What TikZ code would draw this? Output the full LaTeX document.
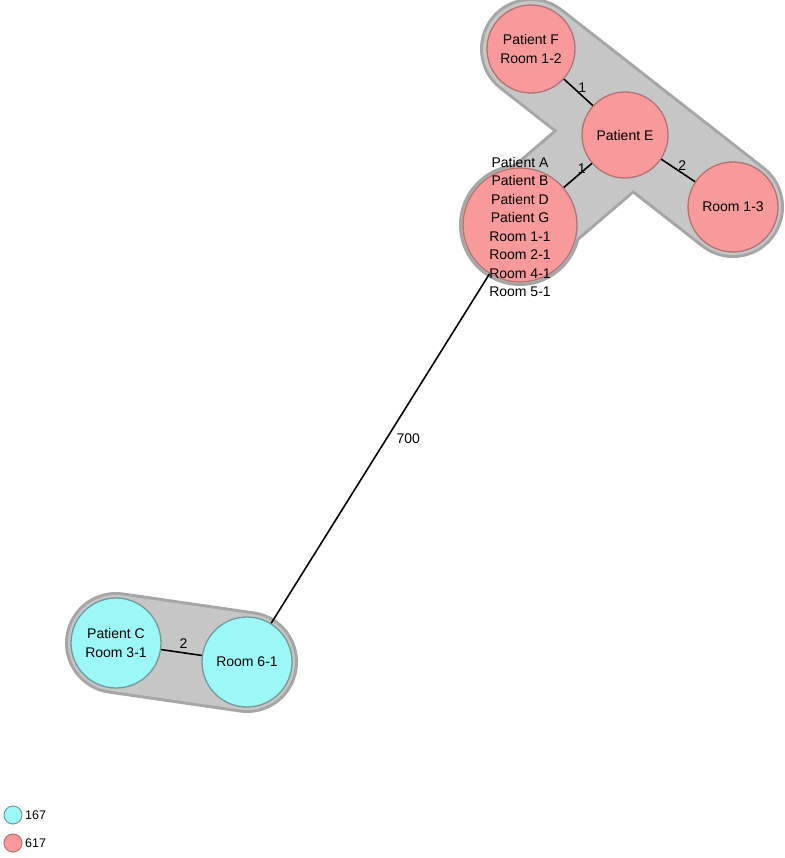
\documentclass[tikz,border=0pt]{standalone}
\usepackage{fontspec}
\setmainfont{Liberation Sans}
\begin{document}
\begin{tikzpicture}[x=1pt,y=-1pt,
  redn/.style={circle,draw=redborder,fill=redfill,line width=1.3pt,inner sep=0pt,minimum size=#1},
  cyann/.style={circle,draw=cyanborder,fill=cyanfill,line width=1.3pt,inner sep=0pt,minimum size=#1},
  ntext/.style={align=center,font=\fontsize{14}{18.5}\selectfont,text=black},
  edge/.style={line width=1.6pt,black},
  elab/.style={font=\fontsize{14}{16}\selectfont,inner sep=0pt},
  hullring/.style={draw=ringgray,line cap=round},
  hullfill/.style={draw=hullgray,line cap=round}]
\definecolor{redfill}{HTML}{F89A9B}
\definecolor{redborder}{HTML}{B27373}
\definecolor{cyanfill}{HTML}{9CF7F7}
\definecolor{cyanborder}{HTML}{739A9A}
\definecolor{ringgray}{HTML}{A6A6A6}
\definecolor{hullgray}{HTML}{C6C6C6}
\useasboundingbox[fill=white] (0,0) rectangle (784,858);
% centres
\coordinate (cF) at (531,49);
\coordinate (cE) at (625,135);
\coordinate (cR13) at (733,207);
\coordinate (cBig) at (520,225);
\coordinate (cC) at (116,643);
\coordinate (cR61) at (247,662);
% hulls: ring pass
\draw[hullring,line width=102pt] (cF) -- (cR13);
\draw[hullring,line width=100pt] (cBig) -- (cE);
\fill[ringgray] (cBig) circle (61);
\draw[hullring,line width=102pt] (cC) -- (cR61);
% hulls: fill pass
\draw[hullfill,line width=96pt] (cF) -- (cR13);
\draw[hullfill,line width=94pt] (cBig) -- (cE);
\fill[hullgray] (cBig) circle (58);
\draw[hullfill,line width=96pt] (cC) -- (cR61);
% nodes
\node[redn=88pt] (F) at (cF) {};
\node[redn=86pt] (E) at (cE) {};
\node[redn=90pt] (R13) at (cR13) {};
\node[redn=114pt] (Big) at (cBig) {};
\node[cyann=90pt] (C) at (cC) {};
\node[cyann=90pt] (R61) at (cR61) {};
% edges
\draw[edge] (F) -- (E) node[elab,pos=0.5,xshift=4pt,yshift=5pt] {1};
\draw[edge] (Big) -- (E) node[elab,pos=0.5,xshift=4pt,yshift=7pt] {1};
\draw[edge] (E) -- (R13) node[elab,pos=0.5,xshift=4pt,yshift=5pt] {2};
\draw[edge] (C) -- (R61) node[elab,pos=0.5,xshift=2pt,yshift=9pt] {2};
\draw[edge] (Big) -- (R61) node[elab,pos=0.5,xshift=28pt,yshift=10pt] {700};
% node texts
\node[ntext] (tF) at (cF) {Patient F\\Room 1-2};
\node[ntext] (tE) at (cE) {Patient E};
\node[ntext] (tR13) at (cR13) {Room 1-3};
\node[ntext] (tBig) at ([yshift=-2pt]cBig) {Patient A\\Patient B\\Patient D\\Patient G\\Room 1-1\\Room 2-1\\Room 4-1\\Room 5-1};
\node[ntext] (tC) at (cC) {Patient C\\Room 3-1};
\node[ntext] (tR61) at (cR61) {Room 6-1};
% legend
\node[cyann=18pt,line width=1pt] (lc) at (13,815) {};
\node[redn=18pt,line width=1pt] (lr) at (13,843) {};
\node[anchor=west,font=\fontsize{12.5}{14}\selectfont,inner sep=0pt] (l1) at (25,815) {167};
\node[anchor=west,font=\fontsize{12.5}{14}\selectfont,inner sep=0pt] (l2) at (25,843) {617};
\end{tikzpicture}
\end{document}
